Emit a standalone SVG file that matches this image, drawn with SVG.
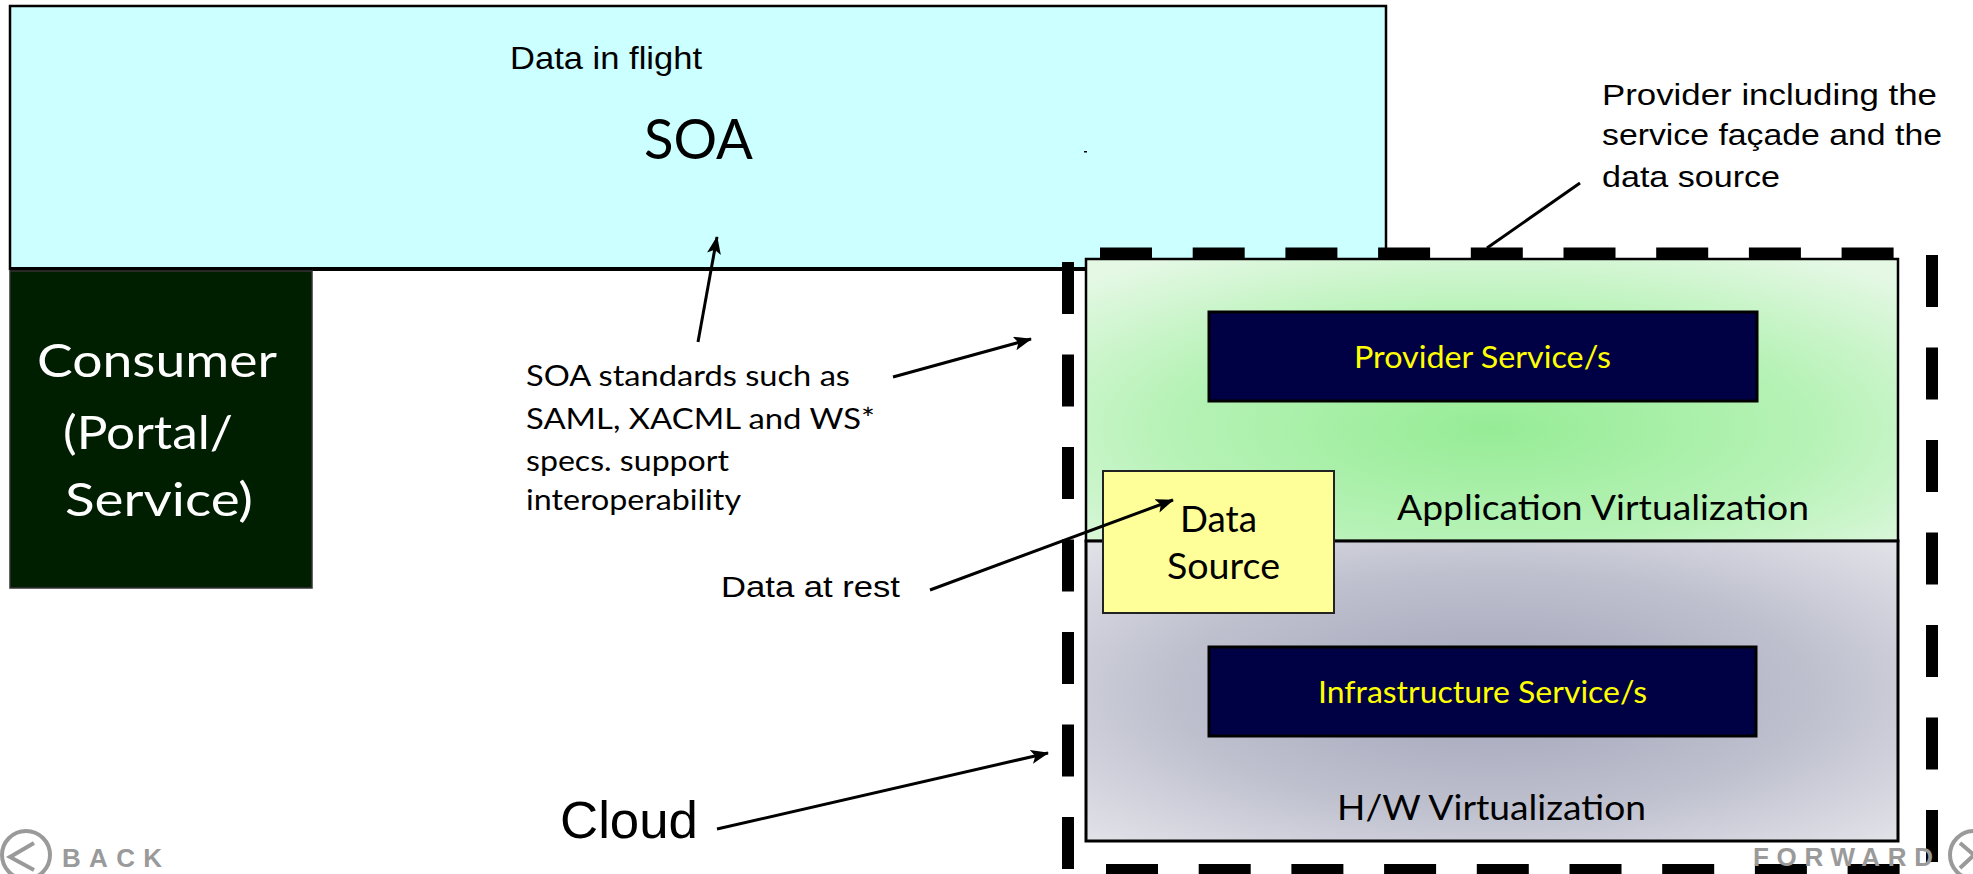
<svg xmlns="http://www.w3.org/2000/svg" width="1973" height="874" viewBox="0 0 1973 874">
  <style>
    .arial { font-family: "Liberation Sans", Arial, sans-serif; fill: #000; }
    .gill { font-family: Lato, "Open Sans", sans-serif; fill: #000; }
    .yellowtxt { font-family: Lato, "Open Sans", sans-serif; fill: #FFFF00; }
    .white { font-family: Lato, "Open Sans", sans-serif; fill: #FFFFFF; }
    .nav { font-family: "Liberation Sans", Arial, sans-serif; font-weight: bold; fill: #9a9a9a; }
    .conn { stroke: #000; stroke-width: 3; fill: none; }
    .dash { stroke: #000; fill: none; stroke-dasharray: 52 40.7; stroke-linecap: butt; }
    .svc { fill: #000044; stroke: #000; stroke-width: 3; }
  </style>
  <defs>
    <marker id="arrow" markerUnits="userSpaceOnUse" markerWidth="20" markerHeight="16" refX="17" refY="7" orient="auto">
      <path d="M0,0 L18,7 L0,14 L4,7 Z" fill="#000"/>
    </marker>
    <radialGradient id="greenGrad" cx="0.5" cy="0.6" r="0.72">
      <stop offset="0" stop-color="#96EC96"/>
      <stop offset="0.55" stop-color="#B6F2B6"/>
      <stop offset="1" stop-color="#E4F8E4"/>
    </radialGradient>
    <radialGradient id="grayGrad" cx="0.5" cy="0.5" r="0.72">
      <stop offset="0" stop-color="#A2A5BA"/>
      <stop offset="0.55" stop-color="#BEC0CE"/>
      <stop offset="1" stop-color="#E4E4EA"/>
    </radialGradient>
  </defs>

  <rect width="1973" height="874" fill="#FFFFFF"/>

  <!-- SOA layer -->
  <g id="soa">
    <rect x="10" y="6" width="1376" height="263" fill="#CCFFFF" stroke="#000" stroke-width="2.5"/>
    <line x1="10" y1="269" x2="1386" y2="269" stroke="#000" stroke-width="4"/>
    <text class="arial" x="510" y="69" font-size="32" textLength="192" lengthAdjust="spacingAndGlyphs">Data in flight</text>
    <text class="gill" x="644" y="159" font-size="56" textLength="109" lengthAdjust="spacingAndGlyphs">SOA</text>
    <rect x="1084" y="151" width="3" height="1.5" fill="#000"/>
  </g>

  <!-- Consumer -->
  <g id="consumer">
    <rect x="10" y="271" width="302" height="317" fill="#001E00" stroke="#333" stroke-width="1.5"/>
    <text class="white" x="37" y="377" font-size="46" textLength="240" lengthAdjust="spacingAndGlyphs">Consumer</text>
    <text class="white" x="63" y="449" font-size="46" textLength="170" lengthAdjust="spacingAndGlyphs">(Portal/</text>
    <text class="white" x="65" y="516" font-size="46" textLength="188" lengthAdjust="spacingAndGlyphs">Service)</text>
  </g>

  <!-- Application virtualization layer -->
  <g id="app-virtualization">
    <rect x="1086" y="259" width="812" height="282" fill="url(#greenGrad)" stroke="#000" stroke-width="2.5"/>
    <text class="gill" x="1397" y="520" font-size="35" textLength="412" lengthAdjust="spacingAndGlyphs">Application Virtualization</text>
  </g>

  <!-- Hardware virtualization layer -->
  <g id="hw-virtualization">
    <rect x="1086" y="541" width="812" height="300" fill="url(#grayGrad)" stroke="#000" stroke-width="3"/>
    <text class="gill" x="1337" y="820" font-size="35" textLength="309" lengthAdjust="spacingAndGlyphs">H/W Virtualization</text>
  </g>

  <!-- Provider services -->
  <g id="provider-service">
    <rect class="svc" x="1209" y="312" width="548" height="89"/>
    <text class="yellowtxt" x="1354" y="368" font-size="30" textLength="257" lengthAdjust="spacingAndGlyphs">Provider Service/s</text>
  </g>

  <g id="infrastructure-service">
    <rect class="svc" x="1209" y="647" width="547" height="89"/>
    <text class="yellowtxt" x="1318" y="703" font-size="30" textLength="329" lengthAdjust="spacingAndGlyphs">Infrastructure Service/s</text>
  </g>

  <!-- Data source -->
  <g id="data-source">
    <rect x="1103" y="471" width="231" height="142" fill="#FFFF99" stroke="#222" stroke-width="2"/>
    <text class="gill" x="1180" y="532" font-size="37" textLength="77" lengthAdjust="spacingAndGlyphs">Data</text>
    <text class="gill" x="1167" y="579" font-size="37" textLength="113" lengthAdjust="spacingAndGlyphs">Source</text>
  </g>

  <!-- Cloud boundary (dashed) -->
  <g id="cloud-boundary">
    <line class="dash" x1="1100" y1="253" x2="1894" y2="253" stroke-width="11"/>
    <line class="dash" x1="1106" y1="869.5" x2="1900" y2="869.5" stroke-width="11"/>
    <line class="dash" x1="1068" y1="262" x2="1068" y2="870" stroke-width="12" style="stroke-dasharray:52 40.5"/>
    <line class="dash" x1="1932" y1="255" x2="1932" y2="863" stroke-width="12" style="stroke-dasharray:52 40.5"/>
  </g>

  <!-- Annotations -->
  <g id="soa-standards-note">
    <text class="gill" x="526" y="386" font-size="29" textLength="324" lengthAdjust="spacingAndGlyphs">SOA standards such as</text>
    <text class="gill" x="526" y="429" font-size="29" textLength="349" lengthAdjust="spacingAndGlyphs">SAML, XACML and WS*</text>
    <text class="gill" x="526" y="471" font-size="29" textLength="203" lengthAdjust="spacingAndGlyphs">specs. support</text>
    <text class="gill" x="526" y="510" font-size="29" textLength="215" lengthAdjust="spacingAndGlyphs">interoperability</text>
  </g>

  <g id="provider-note">
    <text class="arial" x="1602" y="105" font-size="30" textLength="335" lengthAdjust="spacingAndGlyphs">Provider including the</text>
    <text class="arial" x="1602" y="145" font-size="30" textLength="340" lengthAdjust="spacingAndGlyphs">service façade and the</text>
    <text class="arial" x="1602" y="187" font-size="30" textLength="178" lengthAdjust="spacingAndGlyphs">data source</text>
  </g>

  <g id="data-at-rest-note">
    <text class="arial" x="721" y="597" font-size="30" textLength="179" lengthAdjust="spacingAndGlyphs">Data at rest</text>
  </g>

  <g id="cloud-note">
    <text class="arial" x="560" y="838" font-size="52" textLength="138" lengthAdjust="spacingAndGlyphs">Cloud</text>
  </g>

  <!-- Connectors -->
  <g id="connectors">
    <line class="conn" x1="698" y1="342" x2="717" y2="237" marker-end="url(#arrow)"/>
    <line class="conn" x1="893" y1="377" x2="1031" y2="339" marker-end="url(#arrow)"/>
    <line class="conn" x1="930" y1="590" x2="1173" y2="500" marker-end="url(#arrow)"/>
    <line class="conn" x1="717" y1="829" x2="1048" y2="753" marker-end="url(#arrow)"/>
    <line class="conn" x1="1580" y1="183" x2="1487" y2="248" stroke-width="2.5"/>
  </g>

  <!-- Navigation buttons -->
  <g id="nav-back">
    <circle cx="26" cy="855" r="24" fill="none" stroke="#9a9a9a" stroke-width="4"/>
    <polyline points="34,843 10,857 34,870" fill="none" stroke="#9a9a9a" stroke-width="4"/>
    <text class="nav" x="62" y="867" font-size="26" textLength="100" lengthAdjust="spacing">BACK</text>
  </g>
  <g id="nav-forward">
    <text class="nav" x="1753" y="866" font-size="26" textLength="180" lengthAdjust="spacing">FORWARD</text>
    <circle cx="1974" cy="855" r="24" fill="none" stroke="#9a9a9a" stroke-width="4"/>
    <polyline points="1960,843 1974,855 1960,868" fill="none" stroke="#9a9a9a" stroke-width="4"/>
  </g>
</svg>
